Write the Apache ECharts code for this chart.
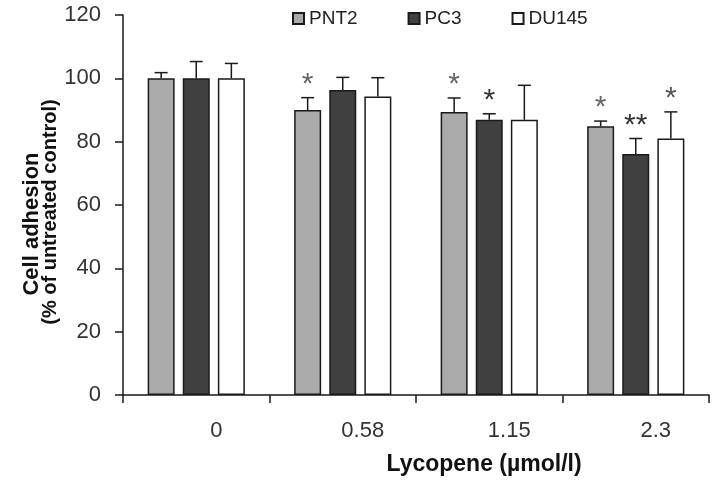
<!DOCTYPE html>
<html>
<head>
<meta charset="utf-8">
<script src="https://cdn.jsdelivr.net/npm/echarts@6/dist/echarts.min.js"></script>
<style>html,body{margin:0;padding:0;background:#fff;}#c{width:715px;height:484px;}</style>
</head>
<body>
<div id="c"></div>
<script>
const categories = ['0', '0.58', '1.15', '2.3'];
const seriesNames = ['PNT2', 'PC3', 'DU145'];
const pnt2 = [100, 90, 89.4, 84.9];
const pc3 = [100, 96.3, 86.9, 76.1];
const du145 = [100, 94.3, 86.9, 81.0];
const pnt2Err = [1.8, 3.9, 4.4, 1.6];
const pc3Err = [5.3, 4.0, 1.9, 4.9];
const du145Err = [4.7, 5.9, 10.9, 8.4];
const pnt2Sig = ['', '*', '*', '*'];
const pc3Sig = ['', '', '*', '**'];
const du145Sig = ['', '', '', '*'];
const yTicks = [0, 20, 40, 60, 80, 100, 120];

const values = [pnt2, pc3, du145];
const errs = [pnt2Err, pc3Err, du145Err];
const sigs = [pnt2Sig, pc3Sig, du145Sig];
const colors = ['#aaaaaa', '#404040', '#ffffff'];
const sigColors = ['#666666', '#333333', '#555555'];
const BAR_W = 27;
const STEP = BAR_W * 1.3;
const FONT = 'Liberation Sans, Arial, sans-serif';

const chart = echarts.init(document.getElementById('c'), null, {renderer: 'canvas'});

const barSeries = seriesNames.map((name, si) => ({
  name: name,
  type: 'bar',
  data: values[si],
  barWidth: BAR_W,
  barGap: '30%',
  itemStyle: {color: colors[si], borderColor: '#1a1a1a', borderWidth: 1.5},
  emphasis: {disabled: true},
  z: 2
}));

const errSeries = seriesNames.map((name, si) => ({
  type: 'custom',
  name: name + ' err',
  data: values[si].map((v, i) => [i, v, errs[si][i]]),
  z: 3,
  silent: true,
  renderItem: function (params, api) {
    const ci = api.value(0), v = api.value(1), e = api.value(2);
    const base = api.coord([ci, v]);
    const top = api.coord([ci, v + e]);
    const x = base[0] + (si - 1) * STEP;
    const children = [
      {type: 'line', shape: {x1: x, y1: base[1], x2: x, y2: top[1]}, style: {stroke: '#1a1a1a', lineWidth: 1.5}},
      {type: 'line', shape: {x1: x - 6.5, y1: top[1], x2: x + 6.5, y2: top[1]}, style: {stroke: '#1a1a1a', lineWidth: 1.5}}
    ];
    const s = sigs[si][params.dataIndex];
    if (s) {
      children.push({type: 'text', style: {text: s, x: x, y: top[1] - 13, align: 'center', verticalAlign: 'middle', fill: sigColors[si], font: '30px ' + FONT}});
    }
    return {type: 'group', children: children};
  }
}));

chart.setOption({
  animation: false,
  backgroundColor: '#ffffff',
  grid: {left: 123, right: 6, top: 15, bottom: 89, containLabel: false},
  legend: {
    data: seriesNames,
    left: 292, top: 9, padding: 0,
    itemWidth: 11, itemHeight: 11, itemGap: 50,
    selectedMode: false,
    icon: 'rect',
    textStyle: {fontSize: 19, fontFamily: FONT, color: '#222'}
  },
  xAxis: {
    type: 'category',
    data: categories,
    boundaryGap: true,
    axisLine: {lineStyle: {color: '#1a1a1a', width: 1.5}},
    axisTick: {show: true, interval: 0, length: 8, lineStyle: {color: '#1a1a1a', width: 1.5}},
    axisLabel: {fontSize: 22, fontFamily: FONT, color: '#333', margin: 25, padding: [0, 0, 0, 40]},
    splitLine: {show: false}
  },
  yAxis: {
    type: 'value',
    min: yTicks[0], max: yTicks[yTicks.length - 1], interval: 20,
    axisLine: {show: true, lineStyle: {color: '#1a1a1a', width: 1.5}},
    axisTick: {show: true, length: 8, lineStyle: {color: '#1a1a1a', width: 1.5}},
    axisLabel: {fontSize: 22, fontFamily: FONT, color: '#333', margin: 22},
    splitLine: {show: false}
  },
  graphic: [
    {type: 'text', x: 32, y: 224, rotation: Math.PI / 2, style: {text: 'Cell adhesion', x: 0, y: 0, align: 'center', verticalAlign: 'middle', fill: '#111', font: 'bold 22px ' + FONT}},
    {type: 'text', x: 50, y: 212, rotation: Math.PI / 2, style: {text: '(% of untreated control)', x: 0, y: 0, align: 'center', verticalAlign: 'middle', fill: '#111', font: 'bold 20px ' + FONT}},
    {type: 'text', x: 484, y: 465, style: {text: 'Lycopene (µmol/l)', x: 0, y: 0, align: 'center', verticalAlign: 'middle', fill: '#111', font: 'bold 23px ' + FONT}}
  ],
  series: barSeries.concat(errSeries)
});
</script>
</body>
</html>
